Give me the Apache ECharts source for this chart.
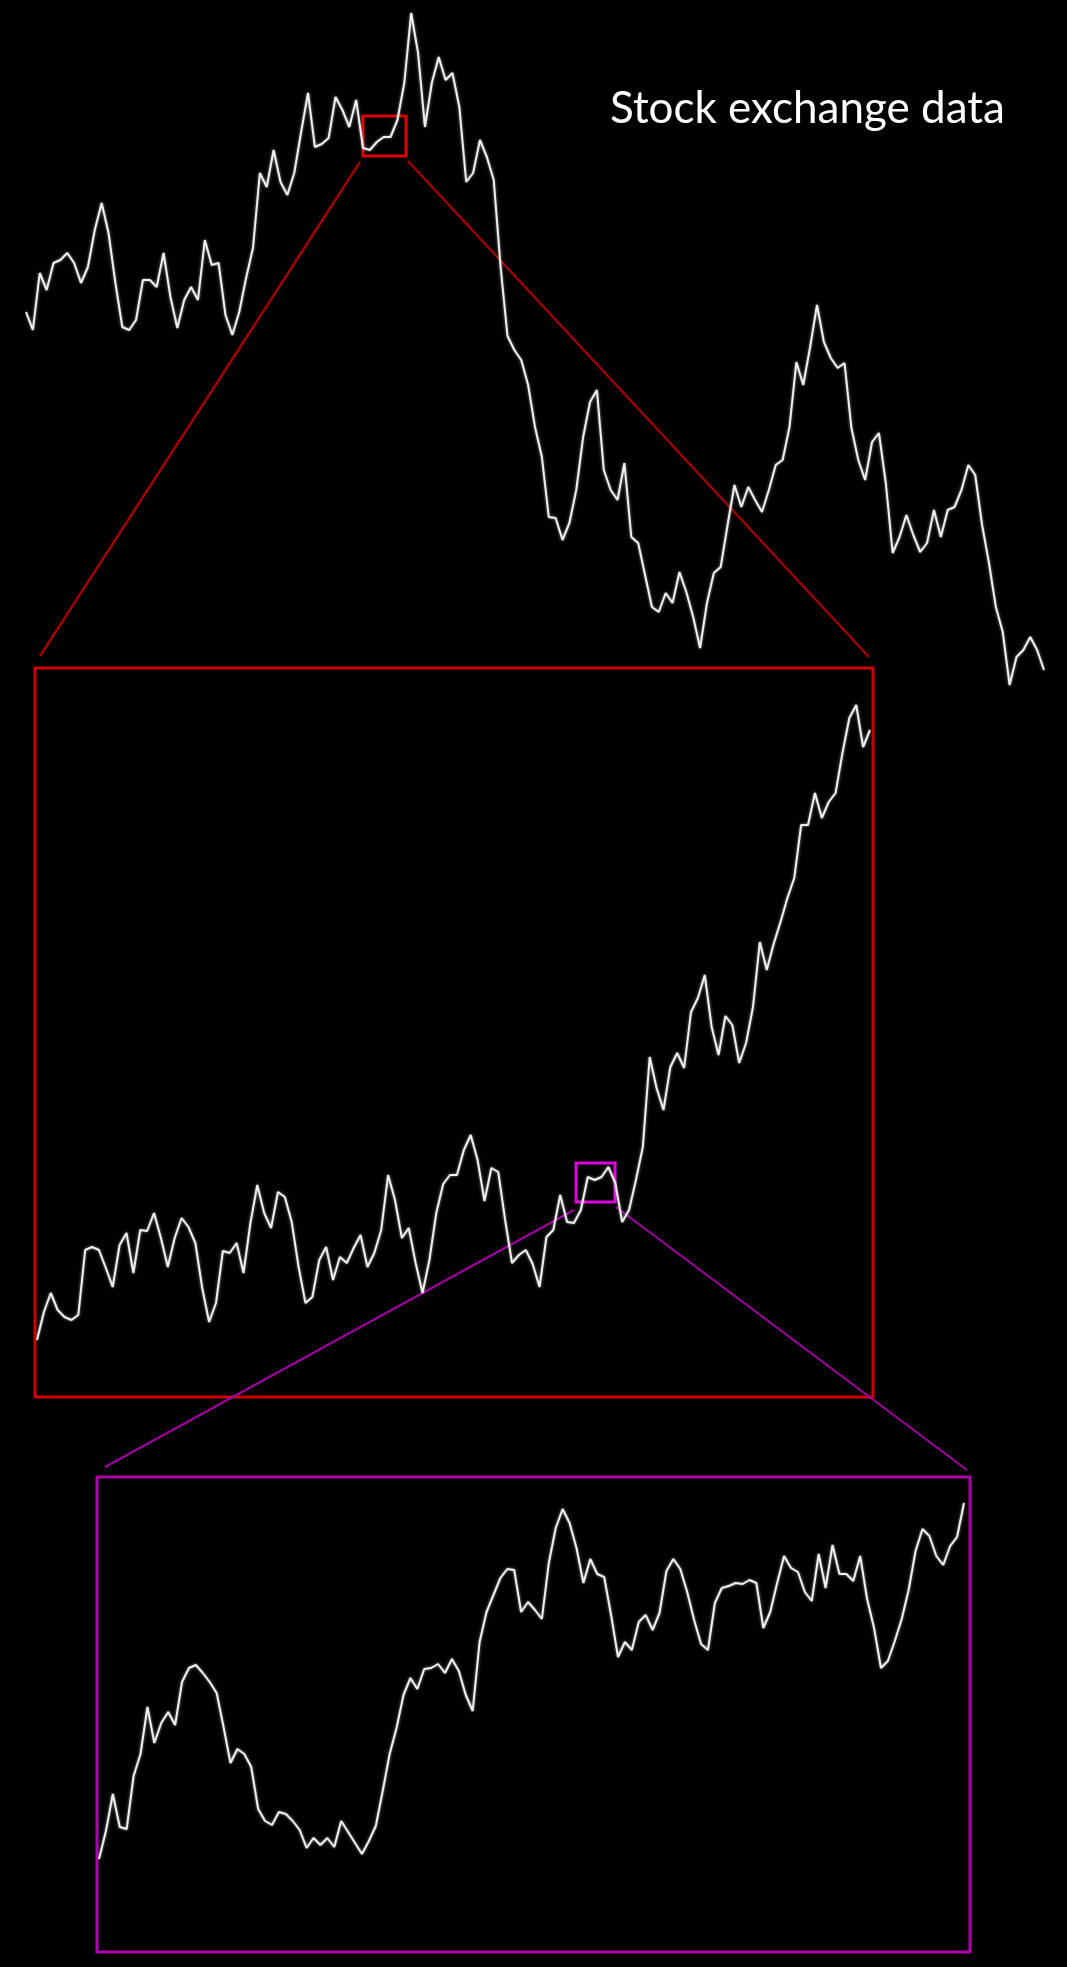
<html>
<head>
    <meta charset="utf-8">
    <title>Stock exchange data</title>
    <script src="https://cdn.jsdelivr.net/npm/echarts/dist/echarts.min.js"></script>
</head>
<style>
    body{
        margin: 0;
        background: #000;
    }
    #chart{
        width: 1067px;
        height: 1967px;
    }
</style>
<body>
<div id="chart"></div>
<script>
    // index level, one value per equal time step
    var topSeries = [
        38.8, 37.0, 42.7, 41.0, 43.7, 44.0, 44.7, 43.7, 41.7, 43.3,
        47.0, 49.7, 46.7, 41.7, 37.3, 37.0, 38.0, 42.0, 42.0, 41.3,
        44.7, 40.3, 37.2, 40.0, 41.3, 40.0, 46.0, 43.5, 43.7, 38.5,
        36.5, 38.8, 42.2, 45.2, 52.7, 51.3, 55.0, 51.8, 50.5, 52.7,
        56.8, 60.7, 55.3, 55.6, 56.2, 60.3, 59.0, 57.3, 60.0, 55.2,
        55.0, 55.8, 56.3, 56.3, 58.0, 61.7, 68.7, 64.7, 57.3, 61.7,
        64.3, 62.0, 62.7, 59.3, 51.8, 52.7, 56.0, 54.3, 52.0, 43.3,
        36.4, 35.0, 34.0, 31.5, 27.3, 24.3, 18.3, 18.2, 16.0, 17.7,
        21.0, 26.3, 29.8, 31.0, 23.0, 21.0, 20.0, 23.7, 16.3, 15.7,
        12.5, 9.3, 8.8, 10.7, 9.7, 12.8, 10.8, 8.3, 5.2, 9.7,
        12.7, 13.3, 17.5, 21.5, 19.3, 21.3, 20.0, 18.8, 21.0, 23.5,
        24.0, 27.3, 33.8, 31.5, 35.3, 39.5, 35.8, 34.2, 33.2, 33.7,
        27.2, 24.0, 22.0, 25.8, 26.7, 21.7, 14.7, 16.3, 18.5, 16.5,
        14.8, 15.7, 19.0, 16.3, 19.0, 19.3, 21.0, 23.5, 22.5, 17.5,
        13.7, 9.3, 6.8, 1.5, 4.3, 5.0, 6.3, 5.0, 3.0
    ];
    var middleSeries = [
        6.0, 8.8, 10.7, 9.0, 8.3, 8.0, 8.5, 15.0, 15.3, 15.0,
        13.2, 11.3, 15.5, 16.7, 12.7, 17.0, 16.9, 18.7, 16.2, 13.3,
        16.2, 18.2, 17.3, 15.7, 11.2, 7.8, 9.7, 14.9, 14.7, 15.7,
        12.7, 17.7, 21.5, 18.7, 17.2, 20.8, 20.3, 17.8, 13.3, 9.7,
        10.3, 14.0, 15.3, 12.0, 14.3, 13.7, 15.2, 16.5, 13.3, 14.7,
        17.0, 22.5, 20.0, 16.2, 17.2, 13.7, 10.7, 14.0, 18.7, 21.6,
        22.5, 22.5, 25.0, 26.5, 24.0, 19.9, 23.2, 22.8, 18.0, 13.7,
        14.5, 15.0, 13.6, 11.3, 16.3, 17.0, 20.5, 17.8, 17.7, 19.0,
        22.3, 22.0, 22.3, 23.3, 21.7, 17.8, 19.0, 22.0, 25.3, 34.3,
        31.2, 29.0, 33.3, 34.7, 33.2, 38.8, 40.2, 42.5, 37.3, 34.5,
        38.4, 37.5, 33.7, 35.7, 39.3, 45.8, 43.0, 45.6, 47.8, 50.2,
        52.2, 57.5, 57.5, 60.7, 58.2, 59.8, 60.7, 64.7, 68.2, 69.5,
        65.3, 67.0
    ];
    var bottomSeries = [
        10.1, 12.9, 16.6, 13.3, 13.1, 18.4, 20.6, 25.3, 21.7, 23.7,
        24.8, 23.5, 27.8, 29.2, 29.5, 28.7, 27.8, 26.7, 23.3, 19.7,
        21.1, 20.6, 19.3, 15.1, 13.9, 13.5, 14.8, 14.6, 13.9, 13.0,
        11.2, 12.2, 11.5, 12.2, 11.3, 13.9, 12.8, 11.7, 10.6, 11.9,
        13.4, 16.9, 20.6, 23.2, 26.5, 28.2, 27.1, 29.1, 29.2, 29.6,
        28.7, 30.1, 28.9, 26.5, 24.9, 31.8, 34.8, 36.5, 38.2, 39.1,
        39.0, 34.8, 35.8, 35.0, 34.1, 39.7, 43.2, 45.1, 43.7, 41.2,
        37.7, 40.1, 38.6, 38.3, 34.5, 30.3, 31.8, 31.0, 33.8, 34.5,
        33.0, 34.7, 38.9, 40.1, 39.1, 36.8, 34.0, 31.6, 31.0, 35.7,
        37.2, 37.4, 37.7, 37.6, 38.0, 37.7, 33.2, 34.8, 37.7, 40.4,
        39.2, 38.8, 36.8, 35.9, 40.6, 37.2, 41.5, 38.6, 38.6, 37.9,
        40.4, 36.1, 33.2, 29.2, 29.9, 31.9, 34.1, 37.0, 40.9, 43.1,
        42.4, 40.4, 39.5, 41.4, 42.3, 45.7
    ];

    function steps(arr){
        return arr.map(function(v, i){ return i; });
    }
    var lineStyle = {color: '#f0f0f0', width: 2, shadowBlur: 3, shadowColor: 'rgba(255,255,255,0.6)'};

    var myChart = echarts.init(document.getElementById('chart'), null, {width: 1067, height: 1967});
    var option = {
        backgroundColor: '#000',
        animation: false,
        title: {
            text: 'Stock exchange data',
            left: 605,
            top: 82,
            textStyle: {color: '#fff', fontSize: 44, fontWeight: 'normal', fontFamily: 'Lato'}
        },
        grid: [
            {left: 26, right: 23, top: 0, height: 700},
            {left: 37, right: 197, top: 700, height: 700},
            {left: 99, right: 103, top: 1460, height: 500}
        ],
        xAxis: [
            {gridIndex: 0, type: 'category', boundaryGap: false, show: false, data: steps(topSeries)},
            {gridIndex: 1, type: 'category', boundaryGap: false, show: false, data: steps(middleSeries)},
            {gridIndex: 2, type: 'category', boundaryGap: false, show: false, data: steps(bottomSeries)}
        ],
        yAxis: [
            {gridIndex: 0, type: 'value', min: 0, max: 70, show: false},
            {gridIndex: 1, type: 'value', min: 0, max: 70, show: false},
            {gridIndex: 2, type: 'value', min: 0, max: 50, show: false}
        ],
        series: [
            {type: 'line', xAxisIndex: 0, yAxisIndex: 0, data: topSeries, symbol: 'none', lineStyle: lineStyle, silent: true},
            {type: 'line', xAxisIndex: 1, yAxisIndex: 1, data: middleSeries, symbol: 'none', lineStyle: lineStyle, silent: true},
            {type: 'line', xAxisIndex: 2, yAxisIndex: 2, data: bottomSeries, symbol: 'none', lineStyle: lineStyle, silent: true}
        ],
        graphic: [
            // zoom frames and their guide lines
            {type: 'line', shape: {x1: 360, y1: 162, x2: 40, y2: 656}, style: {stroke: '#a00000', lineWidth: 2.5}},
            {type: 'line', shape: {x1: 408, y1: 161, x2: 869, y2: 657}, style: {stroke: '#a00000', lineWidth: 2.5}},
            {type: 'rect', shape: {x: 363, y: 116, width: 43, height: 40}, style: {fill: 'none', stroke: '#e00000', lineWidth: 3}},
            {type: 'rect', shape: {x: 35, y: 668, width: 838, height: 729}, style: {fill: 'none', stroke: '#d00000', lineWidth: 3}},
            {type: 'line', shape: {x1: 574, y1: 1210, x2: 105, y2: 1467}, style: {stroke: '#a000a0', lineWidth: 2}},
            {type: 'line', shape: {x1: 616, y1: 1207, x2: 967, y2: 1470}, style: {stroke: '#a000a0', lineWidth: 2}},
            {type: 'rect', shape: {x: 576, y: 1163, width: 39, height: 39}, style: {fill: 'none', stroke: '#e000e0', lineWidth: 3}},
            {type: 'rect', shape: {x: 97, y: 1477, width: 873, height: 475}, style: {fill: 'none', stroke: '#b000b0', lineWidth: 3}}
        ]
    };
    myChart.setOption(option);
</script>
</body>
</html>
